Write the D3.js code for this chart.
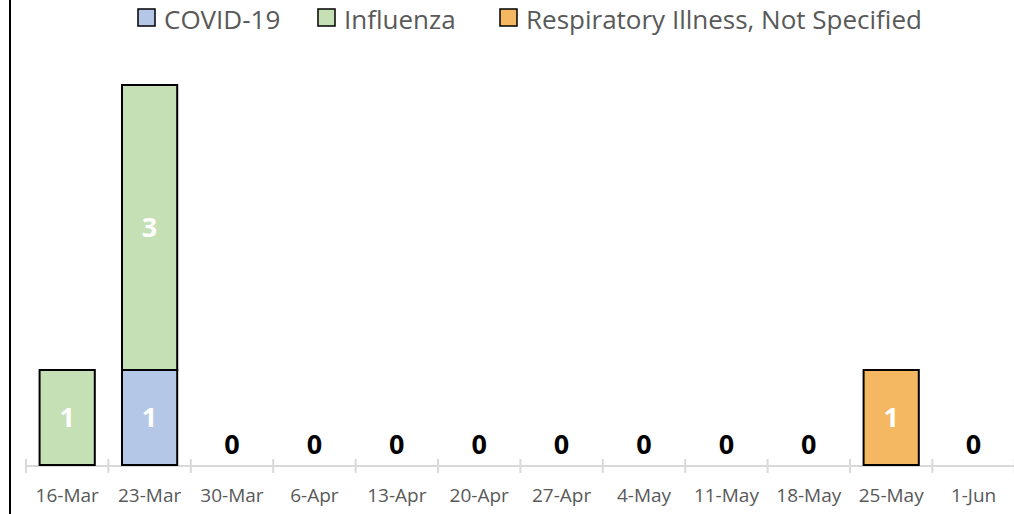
<!DOCTYPE html>
<html>
<head>
<meta charset="utf-8">
<script src="https://cdn.jsdelivr.net/npm/d3@7"></script>
<style>
  body { margin: 0; background: #fff; }
  svg { display: block; font-family: "Open Sans", sans-serif; }
</style>
</head>
<body>
<svg id="chart" width="1014" height="514"></svg>
<script>
// week labels and case counts
const weeks = ["16-Mar", "23-Mar", "30-Mar", "6-Apr", "13-Apr", "20-Apr", "27-Apr", "4-May", "11-May", "18-May", "25-May", "1-Jun"]
const covid = [0, 1, 0, 0, 0, 0, 0, 0, 0, 0, 0, 0]
const influenza = [1, 3, 0, 0, 0, 0, 0, 0, 0, 0, 0, 0]
const respNS = [0, 0, 0, 0, 0, 0, 0, 0, 0, 0, 1, 0]
const seriesNames = ["COVID-19", "Influenza", "Respiratory Illness, Not Specified"]
const seriesColors = ["#b4c7e7", "#c5e0b4", "#f4b862"]

const svg = d3.select("#chart")
const width = 1014, height = 514
const margin = { left: 26, right: 0, top: 85, bottom: 49 }

// left frame line
svg.append("line")
    .attr("x1", 10).attr("x2", 10)
    .attr("y1", 0).attr("y2", height)
    .attr("stroke", "#000").attr("stroke-width", 2)

const xScale = d3.scaleBand()
    .domain(weeks)
    .range([margin.left, margin.left + 12 * 82.4])
    .paddingInner(0.33)
    .paddingOuter(0.165)

const yScale = d3.scaleLinear()
    .domain([0, 4])
    .range([height - margin.bottom, margin.top])

// stack data
const rows = weeks.map((w, i) => ({ week: w, s0: covid[i], s1: influenza[i], s2: respNS[i] }))
const stack = d3.stack().keys(["s0", "s1", "s2"])(rows)

// axis
const axisY = yScale(0) + 1
const axis = svg.append("g")
    .attr("transform", "translate(0," + axisY + ")")
axis.append("line")
    .attr("x1", margin.left).attr("x2", width)
    .attr("stroke", "#d9d9d9").attr("stroke-width", 2)
const step = xScale.step()
d3.range(weeks.length + 1).forEach(i => {
    let x = margin.left + i * step
    axis.append("line")
        .attr("x1", x).attr("x2", x)
        .attr("y1", -7).attr("y2", 7)
        .attr("stroke", "#d9d9d9").attr("stroke-width", 2)
})
axis.selectAll("text.tick")
    .data(weeks)
    .enter()
    .append("text")
    .attr("class", "tick")
    .attr("x", d => xScale(d) + xScale.bandwidth() / 2)
    .attr("y", 29)
    .attr("dy", "0.36em")
    .attr("text-anchor", "middle")
    .attr("fill", "#595959")
    .style("font-size", "19px")
    .text(d => d)

// bars
stack.forEach((layer, li) => {
    svg.append("g")
        .selectAll("rect")
        .data(layer.filter(d => d[1] - d[0] > 0))
        .enter()
        .append("rect")
        .attr("x", d => xScale(d.data.week))
        .attr("y", d => yScale(d[1]))
        .attr("width", xScale.bandwidth())
        .attr("height", d => yScale(d[0]) - yScale(d[1]))
        .attr("fill", seriesColors[li])
        .attr("stroke", "#000")
        .attr("stroke-width", 2)

    // values inside bars
    svg.append("g")
        .selectAll("text")
        .data(layer.filter(d => d[1] - d[0] > 0))
        .enter()
        .append("text")
        .attr("x", d => xScale(d.data.week) + xScale.bandwidth() / 2)
        .attr("y", d => (yScale(d[0]) + yScale(d[1])) / 2)
        .attr("dy", "0.36em")
        .attr("text-anchor", "middle")
        .attr("fill", "#fff")
        .style("font-size", "27px")
        .style("font-weight", "bold")
        .text(d => d[1] - d[0])
})

// zero labels for empty weeks
svg.append("g")
    .selectAll("text")
    .data(rows.filter(d => d.s0 + d.s1 + d.s2 === 0))
    .enter()
    .append("text")
    .attr("x", d => xScale(d.week) + xScale.bandwidth() / 2)
    .attr("y", yScale(0) - 21)
    .attr("dy", "0.36em")
    .attr("text-anchor", "middle")
    .attr("fill", "#000")
    .style("font-size", "27px")
    .style("font-weight", "bold")
    .text("0")

// legend
const legendX = [138, 318, 500]
const legend = svg.append("g")
seriesNames.forEach((name, i) => {
    legend.append("rect")
        .attr("x", legendX[i]).attr("y", 9)
        .attr("width", 17).attr("height", 17)
        .attr("fill", seriesColors[i])
        .attr("stroke", "#000")
        .attr("stroke-width", 1.5)
    legend.append("text")
        .attr("x", legendX[i] + 26)
        .attr("y", 29)
        .attr("fill", "#595959")
        .style("font-size", "26px")
        .text(name)
})
</script>
</body>
</html>
